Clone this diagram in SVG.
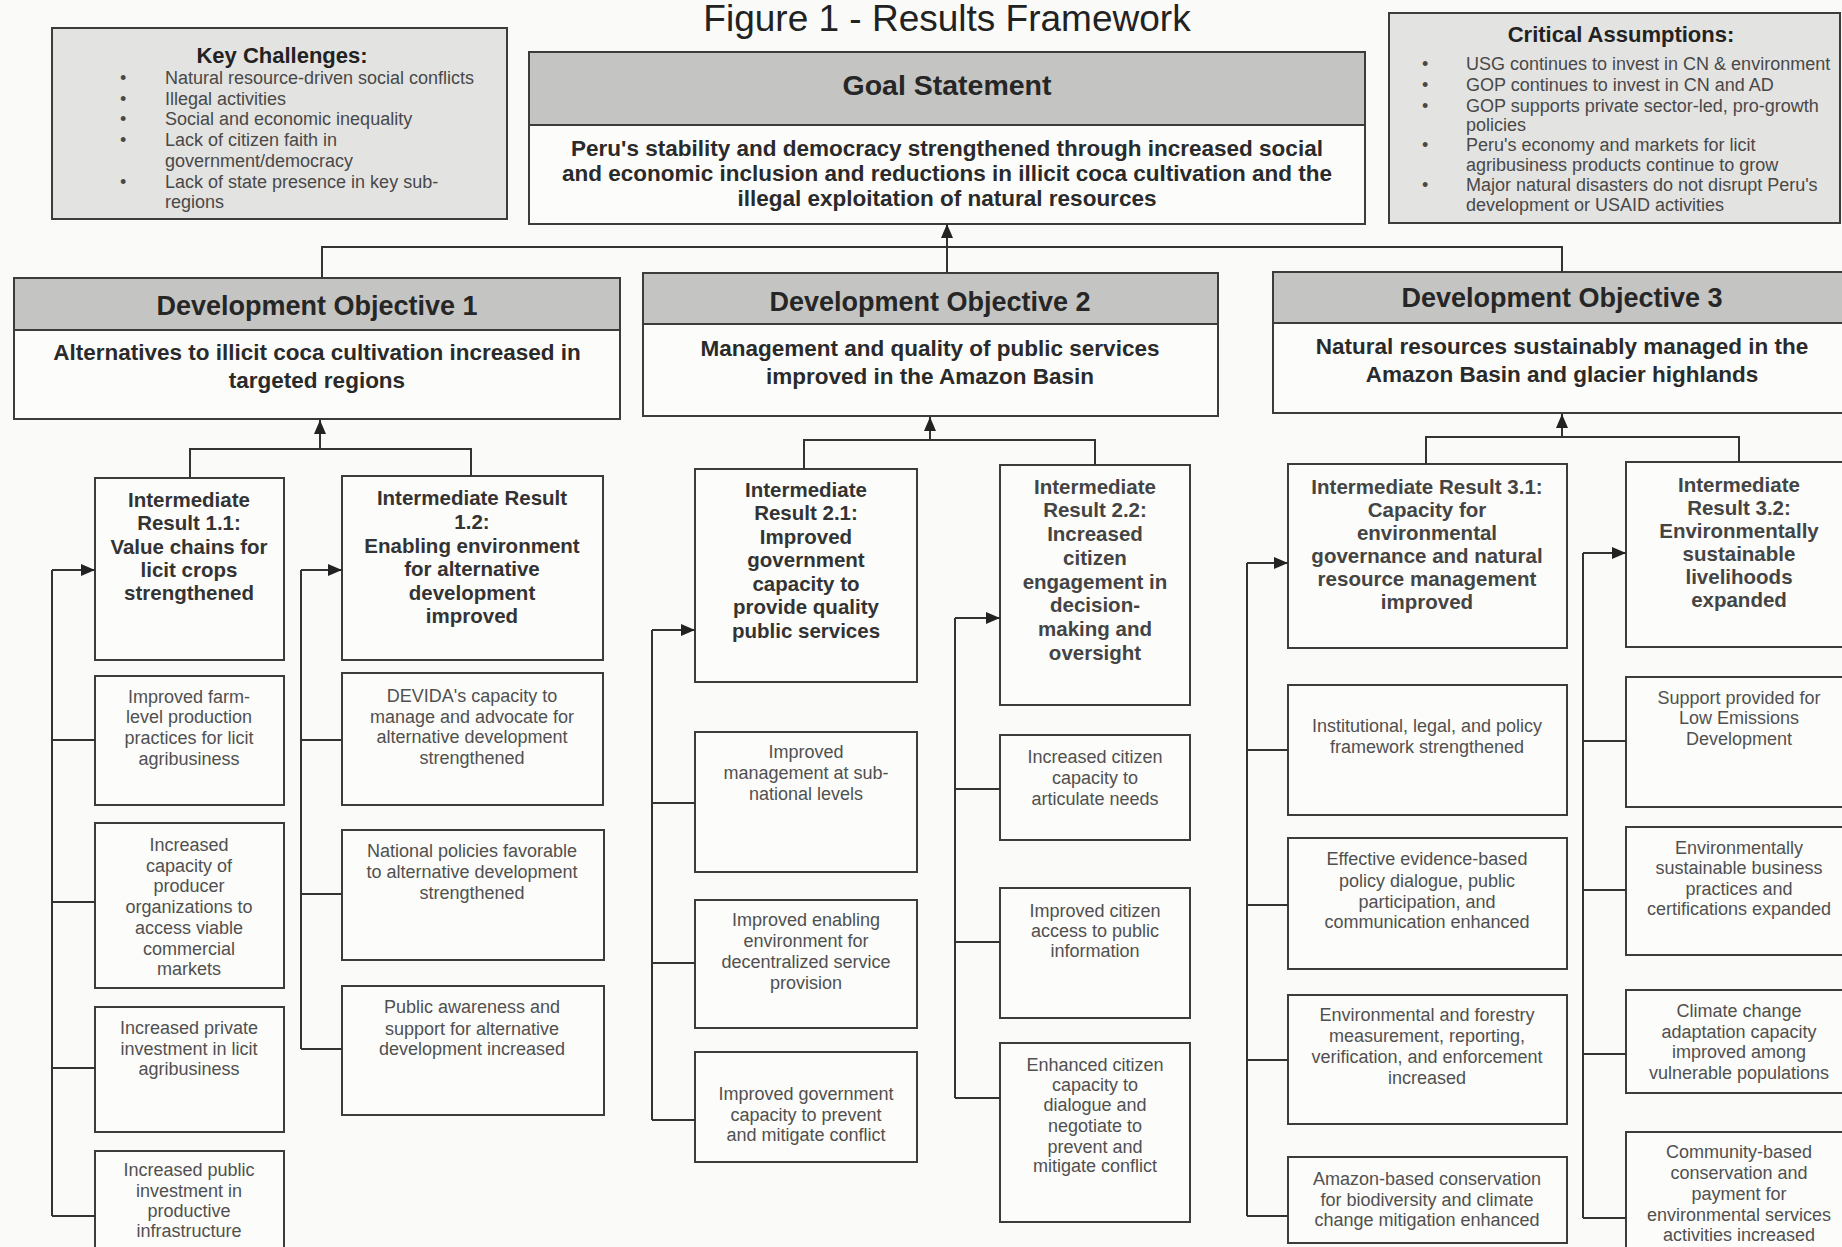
<svg xmlns="http://www.w3.org/2000/svg" width="1842" height="1247" viewBox="0 0 1842 1247">
<defs>
<marker id="arr" viewBox="0 0 14 12" markerWidth="14" markerHeight="12" refX="14" refY="6" orient="auto" markerUnits="userSpaceOnUse"><path d="M0,0 L14,6 L0,12 z" fill="#222"/></marker>
<style>
.bg{fill:#fafaf8}
.note{fill:#e3e3e1;stroke:#3c3c3c;stroke-width:2}
.box{fill:#fcfcfa;stroke:#3c3c3c;stroke-width:2}
.hdr{fill:#c4c4c2;stroke:#3c3c3c;stroke-width:2}
.con{fill:none;stroke:#333;stroke-width:2}
text{font-family:"Liberation Sans",Arial,sans-serif}
.title{font-size:37px;fill:#222;text-anchor:middle}
.h1{font-size:27px;font-weight:bold;fill:#262626;text-anchor:middle}
.gs{font-size:28.5px}
.b1{font-size:22.5px;font-weight:bold;fill:#2a2a2a;text-anchor:middle}
.ir{font-size:20.5px;font-weight:bold;fill:#333;text-anchor:middle}
.irl{fill:#444}
.sub{font-size:18px;fill:#505050;text-anchor:middle}
.nt{font-size:22px;font-weight:bold;fill:#222;text-anchor:middle}
.nl{font-size:18px;fill:#484848}
</style>
</defs>
<rect class="bg" x="0" y="0" width="1842" height="1247"/>
<text class="title" x="947" y="31">Figure 1 - Results Framework</text>

<g id="key-challenges">
<rect class="note" x="52" y="28" width="455" height="191"/>
<text class="nt" x="282" y="63">Key Challenges:</text>
<text class="nl"><tspan x="120" y="84">•</tspan><tspan x="165" y="84">Natural resource-driven social conflicts</tspan><tspan x="120" y="105">•</tspan><tspan x="165" y="105">Illegal activities</tspan><tspan x="120" y="125">•</tspan><tspan x="165" y="125">Social and economic inequality</tspan><tspan x="120" y="146">•</tspan><tspan x="165" y="146">Lack of citizen faith in</tspan><tspan x="165" y="167">government/democracy</tspan><tspan x="120" y="188">•</tspan><tspan x="165" y="188">Lack of state presence in key sub-</tspan><tspan x="165" y="208">regions</tspan></text>
</g>

<g id="goal">
<rect class="box" x="529" y="52" width="836" height="172"/>
<rect class="hdr" x="529" y="52" width="836" height="73"/>
<text class="h1 gs" x="947" y="95">Goal Statement</text>
<text class="b1"><tspan x="947" y="156">Peru's stability and democracy strengthened through increased social</tspan><tspan x="947" y="181">and economic inclusion and reductions in illicit coca cultivation and the</tspan><tspan x="947" y="206">illegal exploitation of natural resources</tspan></text>
</g>

<g id="critical-assumptions">
<rect class="note" x="1389" y="13" width="451" height="210"/>
<text class="nt" x="1621" y="42">Critical Assumptions:</text>
<text class="nl"><tspan x="1422" y="70">•</tspan><tspan x="1466" y="70">USG continues to invest in CN &amp; environment</tspan><tspan x="1422" y="91">•</tspan><tspan x="1466" y="91">GOP continues to invest in CN and AD</tspan><tspan x="1422" y="112">•</tspan><tspan x="1466" y="112">GOP supports private sector-led, pro-growth</tspan><tspan x="1466" y="131">policies</tspan><tspan x="1422" y="151">•</tspan><tspan x="1466" y="151">Peru's economy and markets for licit</tspan><tspan x="1466" y="171">agribusiness products continue to grow</tspan><tspan x="1422" y="191">•</tspan><tspan x="1466" y="191">Major natural disasters do not disrupt Peru's</tspan><tspan x="1466" y="211">development or USAID activities</tspan></text>
</g>

<g id="do1">
<rect class="box" x="14" y="278" width="606" height="141"/>
<rect class="hdr" x="14" y="278" width="606" height="52"/>
<text class="h1" x="317" y="315">Development Objective 1</text>
<text class="b1"><tspan x="317" y="360">Alternatives to illicit coca cultivation increased in</tspan><tspan x="317" y="388">targeted regions</tspan></text>
</g>
<g id="do2">
<rect class="box" x="643" y="273" width="575" height="143"/>
<rect class="hdr" x="643" y="273" width="575" height="51"/>
<text class="h1" x="930" y="311">Development Objective 2</text>
<text class="b1"><tspan x="930" y="356">Management and quality of public services</tspan><tspan x="930" y="384">improved in the Amazon Basin</tspan></text>
</g>
<g id="do3">
<rect class="box" x="1273" y="272" width="580" height="141"/>
<rect class="hdr" x="1273" y="272" width="580" height="51"/>
<text class="h1" x="1562" y="307">Development Objective 3</text>
<text class="b1"><tspan x="1562" y="354">Natural resources sustainably managed in the</tspan><tspan x="1562" y="382">Amazon Basin and glacier highlands</tspan></text>
</g>

<g id="ir11">
<rect class="box" x="95" y="478" width="189" height="182"/>
<text class="ir"><tspan x="189" y="507">Intermediate</tspan><tspan x="189" y="530">Result 1.1:</tspan><tspan x="189" y="554">Value chains for</tspan><tspan x="189" y="577">licit crops</tspan><tspan x="189" y="600">strengthened</tspan></text>
</g>
<g id="ir12">
<rect class="box" x="342" y="476" width="261" height="184"/>
<text class="ir"><tspan x="472" y="505">Intermediate Result</tspan><tspan x="472" y="529">1.2:</tspan><tspan x="472" y="553">Enabling environment</tspan><tspan x="472" y="576">for alternative</tspan><tspan x="472" y="600">development</tspan><tspan x="472" y="623">improved</tspan></text>
</g>
<g id="ir21">
<rect class="box" x="695" y="469" width="222" height="213"/>
<text class="ir"><tspan x="806" y="497">Intermediate</tspan><tspan x="806" y="520">Result 2.1:</tspan><tspan x="806" y="544">Improved</tspan><tspan x="806" y="567">government</tspan><tspan x="806" y="591">capacity to</tspan><tspan x="806" y="614">provide quality</tspan><tspan x="806" y="638">public services</tspan></text>
</g>
<g id="ir22">
<rect class="box" x="1000" y="465" width="190" height="240"/>
<text class="ir irl"><tspan x="1095" y="494">Intermediate</tspan><tspan x="1095" y="517">Result 2.2:</tspan><tspan x="1095" y="541">Increased</tspan><tspan x="1095" y="565">citizen</tspan><tspan x="1095" y="589">engagement in</tspan><tspan x="1095" y="612">decision-</tspan><tspan x="1095" y="636">making and</tspan><tspan x="1095" y="660">oversight</tspan></text>
</g>
<g id="ir31">
<rect class="box" x="1288" y="464" width="279" height="184"/>
<text class="ir irl"><tspan x="1427" y="494">Intermediate Result 3.1:</tspan><tspan x="1427" y="517">Capacity for</tspan><tspan x="1427" y="540">environmental</tspan><tspan x="1427" y="563">governance and natural</tspan><tspan x="1427" y="586">resource management</tspan><tspan x="1427" y="609">improved</tspan></text>
</g>
<g id="ir32">
<rect class="box" x="1626" y="462" width="230" height="185"/>
<text class="ir irl"><tspan x="1739" y="492">Intermediate</tspan><tspan x="1739" y="515">Result 3.2:</tspan><tspan x="1739" y="538">Environmentally</tspan><tspan x="1739" y="561">sustainable</tspan><tspan x="1739" y="584">livelihoods</tspan><tspan x="1739" y="607">expanded</tspan></text>
</g>

<g id="sub11a"><rect class="box" x="95" y="676" width="189" height="129"/><text class="sub"><tspan x="189" y="703">Improved farm-</tspan><tspan x="189" y="723">level production</tspan><tspan x="189" y="744">practices for licit</tspan><tspan x="189" y="765">agribusiness</tspan></text></g>
<g id="sub11b"><rect class="box" x="95" y="823" width="189" height="165"/><text class="sub"><tspan x="189" y="851">Increased</tspan><tspan x="189" y="872">capacity of</tspan><tspan x="189" y="892">producer</tspan><tspan x="189" y="913">organizations to</tspan><tspan x="189" y="934">access viable</tspan><tspan x="189" y="955">commercial</tspan><tspan x="189" y="975">markets</tspan></text></g>
<g id="sub11c"><rect class="box" x="95" y="1007" width="189" height="125"/><text class="sub"><tspan x="189" y="1034">Increased private</tspan><tspan x="189" y="1055">investment in licit</tspan><tspan x="189" y="1075">agribusiness</tspan></text></g>
<g id="sub11d"><rect class="box" x="95" y="1151" width="189" height="110"/><text class="sub"><tspan x="189" y="1176">Increased public</tspan><tspan x="189" y="1197">investment in</tspan><tspan x="189" y="1217">productive</tspan><tspan x="189" y="1237">infrastructure</tspan></text></g>

<g id="sub12a"><rect class="box" x="342" y="673" width="261" height="132"/><text class="sub"><tspan x="472" y="702">DEVIDA's capacity to</tspan><tspan x="472" y="723">manage and advocate for</tspan><tspan x="472" y="743">alternative development</tspan><tspan x="472" y="764">strengthened</tspan></text></g>
<g id="sub12b"><rect class="box" x="342" y="830" width="262" height="130"/><text class="sub"><tspan x="472" y="857">National policies favorable</tspan><tspan x="472" y="878">to alternative development</tspan><tspan x="472" y="899">strengthened</tspan></text></g>
<g id="sub12c"><rect class="box" x="342" y="986" width="262" height="129"/><text class="sub"><tspan x="472" y="1013">Public awareness and</tspan><tspan x="472" y="1035">support for alternative</tspan><tspan x="472" y="1055">development increased</tspan></text></g>

<g id="sub21a"><rect class="box" x="695" y="732" width="222" height="140"/><text class="sub"><tspan x="806" y="758">Improved</tspan><tspan x="806" y="779">management at sub-</tspan><tspan x="806" y="800">national levels</tspan></text></g>
<g id="sub21b"><rect class="box" x="695" y="900" width="222" height="128"/><text class="sub"><tspan x="806" y="926">Improved enabling</tspan><tspan x="806" y="947">environment for</tspan><tspan x="806" y="968">decentralized service</tspan><tspan x="806" y="989">provision</tspan></text></g>
<g id="sub21c"><rect class="box" x="695" y="1052" width="222" height="110"/><text class="sub"><tspan x="806" y="1100">Improved government</tspan><tspan x="806" y="1121">capacity to prevent</tspan><tspan x="806" y="1141">and mitigate conflict</tspan></text></g>

<g id="sub22a"><rect class="box" x="1000" y="735" width="190" height="105"/><text class="sub"><tspan x="1095" y="763">Increased citizen</tspan><tspan x="1095" y="784">capacity to</tspan><tspan x="1095" y="805">articulate needs</tspan></text></g>
<g id="sub22b"><rect class="box" x="1000" y="888" width="190" height="130"/><text class="sub"><tspan x="1095" y="917">Improved citizen</tspan><tspan x="1095" y="937">access to public</tspan><tspan x="1095" y="957">information</tspan></text></g>
<g id="sub22c"><rect class="box" x="1000" y="1043" width="190" height="179"/><text class="sub"><tspan x="1095" y="1071">Enhanced citizen</tspan><tspan x="1095" y="1091">capacity to</tspan><tspan x="1095" y="1111">dialogue and</tspan><tspan x="1095" y="1132">negotiate to</tspan><tspan x="1095" y="1153">prevent and</tspan><tspan x="1095" y="1172">mitigate conflict</tspan></text></g>

<g id="sub31a"><rect class="box" x="1288" y="685" width="279" height="130"/><text class="sub"><tspan x="1427" y="732">Institutional, legal, and policy</tspan><tspan x="1427" y="753">framework strengthened</tspan></text></g>
<g id="sub31b"><rect class="box" x="1288" y="838" width="279" height="131"/><text class="sub"><tspan x="1427" y="865">Effective evidence-based</tspan><tspan x="1427" y="887">policy dialogue, public</tspan><tspan x="1427" y="908">participation, and</tspan><tspan x="1427" y="928">communication enhanced</tspan></text></g>
<g id="sub31c"><rect class="box" x="1288" y="995" width="279" height="129"/><text class="sub"><tspan x="1427" y="1021">Environmental and forestry</tspan><tspan x="1427" y="1042">measurement, reporting,</tspan><tspan x="1427" y="1063">verification, and enforcement</tspan><tspan x="1427" y="1084">increased</tspan></text></g>
<g id="sub31d"><rect class="box" x="1288" y="1157" width="279" height="86"/><text class="sub"><tspan x="1427" y="1185">Amazon-based conservation</tspan><tspan x="1427" y="1206">for biodiversity and climate</tspan><tspan x="1427" y="1226">change mitigation enhanced</tspan></text></g>

<g id="sub32a"><rect class="box" x="1626" y="677" width="230" height="130"/><text class="sub"><tspan x="1739" y="704">Support provided for</tspan><tspan x="1739" y="724">Low Emissions</tspan><tspan x="1739" y="745">Development</tspan></text></g>
<g id="sub32b"><rect class="box" x="1626" y="827" width="230" height="128"/><text class="sub"><tspan x="1739" y="854">Environmentally</tspan><tspan x="1739" y="874">sustainable business</tspan><tspan x="1739" y="895">practices and</tspan><tspan x="1739" y="915">certifications expanded</tspan></text></g>
<g id="sub32c"><rect class="box" x="1626" y="990" width="230" height="103"/><text class="sub"><tspan x="1739" y="1017">Climate change</tspan><tspan x="1739" y="1038">adaptation capacity</tspan><tspan x="1739" y="1058">improved among</tspan><tspan x="1739" y="1079">vulnerable populations</tspan></text></g>
<g id="sub32d"><rect class="box" x="1626" y="1132" width="230" height="130"/><text class="sub"><tspan x="1739" y="1158">Community-based</tspan><tspan x="1739" y="1179">conservation and</tspan><tspan x="1739" y="1200">payment for</tspan><tspan x="1739" y="1221">environmental services</tspan><tspan x="1739" y="1241">activities increased</tspan></text></g>

<g id="connectors">
<path class="con" d="M322,278 V247 H1562 V272 M947,247 V273"/>
<path class="con" marker-end="url(#arr)" d="M947,247 V224"/>
<path class="con" d="M190,478 V449 H471 V476"/>
<path class="con" marker-end="url(#arr)" d="M320,449 V420"/>
<path class="con" d="M804,469 V440 H1095 V465"/>
<path class="con" marker-end="url(#arr)" d="M930,440 V417"/>
<path class="con" d="M1426,464 V437 H1739 V462"/>
<path class="con" marker-end="url(#arr)" d="M1562,437 V414"/>

<path class="con" d="M52,570 V1216 M52,740 H95 M52,902 H95 M52,1068 H95 M52,1216 H95"/>
<path class="con" marker-end="url(#arr)" d="M52,570 H95"/>
<path class="con" d="M301,570 V1049 M301,740 H342 M301,894 H342 M301,1049 H342"/>
<path class="con" marker-end="url(#arr)" d="M301,570 H342"/>
<path class="con" d="M652,630 V1120 M652,803 H695 M652,963 H695 M652,1120 H695"/>
<path class="con" marker-end="url(#arr)" d="M652,630 H695"/>
<path class="con" d="M955,618 V1098 M955,789 H1000 M955,942 H1000 M955,1098 H1000"/>
<path class="con" marker-end="url(#arr)" d="M955,618 H1000"/>
<path class="con" d="M1247,563 V1216 M1247,750 H1288 M1247,905 H1288 M1247,1060 H1288 M1247,1216 H1288"/>
<path class="con" marker-end="url(#arr)" d="M1247,563 H1288"/>
<path class="con" d="M1583,553 V1218 M1583,741 H1626 M1583,890 H1626 M1583,1054 H1626 M1583,1218 H1626"/>
<path class="con" marker-end="url(#arr)" d="M1583,553 H1626"/>
</g>
</svg>
